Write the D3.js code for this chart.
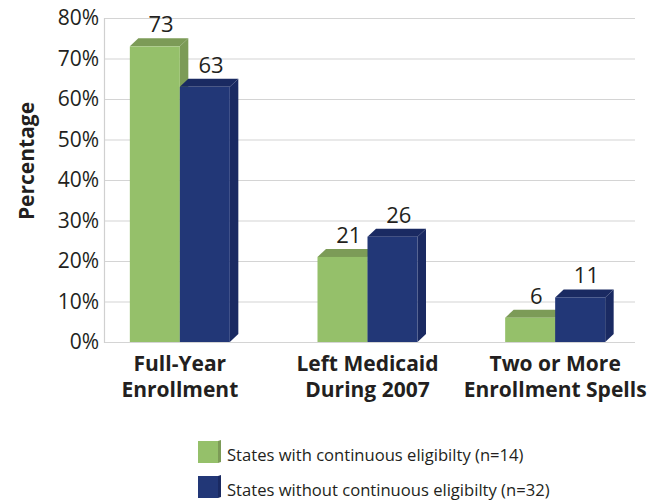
<!DOCTYPE html>
<html><head><meta charset="utf-8">
<script src="https://cdn.jsdelivr.net/npm/d3@7"></script>
<style>body{margin:0;background:#fff}svg{display:block}text{font-family:"Open Sans",sans-serif;fill:#231f20}</style>
</head><body>
<svg id="c" width="658" height="502"></svg>
<script>
const categories = ["Full-Year Enrollment", "Left Medicaid During 2007", "Two or More Enrollment Spells"];
const categoryLines = [["Full-Year", "Enrollment"], ["Left Medicaid", "During 2007"], ["Two or More", "Enrollment Spells"]];
const seriesNames = ["States with continuous eligibilty (n=14)", "States without continuous eligibilty (n=32)"];
const withContinuous = [73, 21, 6];
const withoutContinuous = [63, 26, 11];
const yTicks = [0, 10, 20, 30, 40, 50, 60, 70, 80];

(function () {
const colors = [
  {front: "#95c06a", top: "#7c9b57", side: "#7c9b57"},
  {front: "#223777", top: "#1a2a62", side: "#1a2a62"}
];

const svg = d3.select("#c");
const pLeft = 104, pRight = 635, pTop = 18, pBottom = 342;
const y = d3.scaleLinear().domain([0, 80]).range([pBottom, pTop]);
const x = d3.scaleBand().domain(categories).range([86, 649]).padding(0);
const inner = d3.scaleBand().domain([0, 1]).range([-50, 50]).padding(0);
const dx = 8.5, dy = 8;

// gridlines
svg.append("g").selectAll("line").data(yTicks).join("line")
  .attr("x1", pLeft).attr("x2", pRight)
  .attr("y1", d => y(d) + 0.5).attr("y2", d => y(d) + 0.5)
  .attr("stroke", "#d4d4d4").attr("stroke-width", 1.2);
svg.append("line").attr("x1", pLeft + 0.5).attr("x2", pLeft + 0.5).attr("y1", pTop).attr("y2", pBottom + 1)
  .attr("stroke", "#d0d0d0").attr("stroke-width", 1.2);

// y tick labels
svg.append("g").selectAll("text").data(yTicks).join("text")
  .attr("x", 99).attr("y", d => y(d)).attr("dy", "0.35em")
  .attr("text-anchor", "end").style("font-size", "21px")
  .text(d => d + "%");

// axis title
svg.append("text").attr("transform", "translate(34,161) rotate(-90)")
  .attr("text-anchor", "middle").style("font-size", "21px").style("font-weight", "bold")
  .text("Percentage");

// bars
const series = [withContinuous, withoutContinuous];
categories.forEach((cat, i) => {
  series.forEach((vals, s) => {
    const v = vals[i];
    const x0 = x(cat) + x.bandwidth() / 2 + inner(s);
    const w = inner.bandwidth();
    const yt = y(v), yb = y(0);
    const g = svg.append("g");
    const c = colors[s];
    g.append("path").attr("d", `M${x0 + w},${yt} L${x0 + w + dx},${yt - dy} L${x0 + w + dx},${yb - dy} L${x0 + w},${yb} Z`)
      .attr("fill", c.side);
    g.append("path").attr("d", `M${x0},${yt} L${x0 + dx},${yt - dy} L${x0 + w + dx},${yt - dy} L${x0 + w},${yt} Z`)
      .attr("fill", c.top);
    g.append("rect").attr("x", x0).attr("y", yt).attr("width", w).attr("height", yb - yt)
      .attr("fill", c.front);
  });
});
// value labels
categories.forEach((cat, i) => {
  series.forEach((vals, s) => {
    const v = vals[i];
    const cx = x(cat) + x.bandwidth() / 2 + inner(s) + inner.bandwidth() / 2 + dx / 2 + 2;
    svg.append("text").attr("x", cx).attr("y", y(v) - dy - 6)
      .attr("text-anchor", "middle").style("font-size", "22px").text(v);
  });
});

// category labels
categories.forEach((cat, i) => {
  const t = svg.append("text").attr("text-anchor", "middle")
    .style("font-size", "21px").style("font-weight", "bold");
  categoryLines[i].forEach((ln, j) => {
    t.append("tspan").attr("x", x(cat) + x.bandwidth() / 2).attr("y", 371 + j * 26).text(ln);
  });
});

// legend
seriesNames.forEach((name, s) => {
  const ly = 441 + s * 35;
  const c = colors[s];
  svg.append("rect").attr("x", 198).attr("y", ly).attr("width", 20).attr("height", 22).attr("fill", c.front);
  svg.append("path").attr("d", `M218,${ly} L221,${ly - 1} L221,${ly + 21} L218,${ly + 22} Z`).attr("fill", c.side);
  svg.append("text").attr("x", 227).attr("y", ly + 20).style("font-size", "16.6px").text(name);
});
})();
</script>
</body></html>
